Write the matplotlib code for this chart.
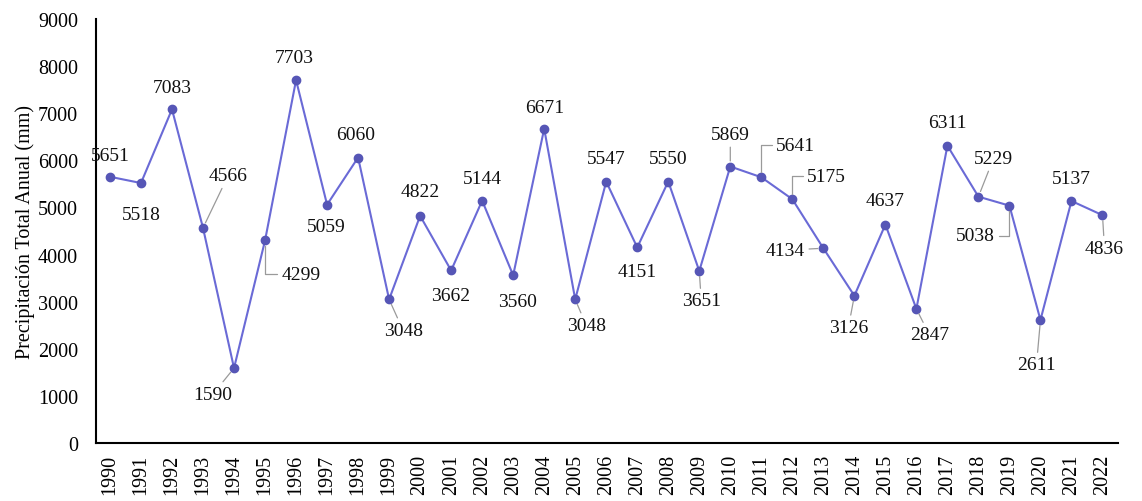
import matplotlib.pyplot as plt
import numpy as np

plt.rcParams['font.family'] = ['Liberation Serif', 'DejaVu Serif']

# annual precipitation totals (mm)
years = list(range(1990, 2023))
precip = [5651, 5518, 7083, 4566, 1590, 4299, 7703, 5059, 6060, 3048,
          4822, 3662, 5144, 3560, 6671, 3048, 5547, 4151, 5550, 3651,
          5869, 5641, 5175, 4134, 3126, 4637, 2847, 6311, 5229, 5038,
          2611, 5137, 4836]
y_ticks = [0, 1000, 2000, 3000, 4000, 5000, 6000, 7000, 8000, 9000]

# label placement (pixel offsets from the point) and leader line style
label_offsets = [(0, 21), (0, -31), (0, 22), (25, 52), (-21, -26), (36, -34),
                 (-2, 23), (-1, -22), (-2, 23), (14, -31), (0, 24), (-1, -25),
                 (0, 22), (4, -26), (0, 21), (11, -26), (0, 23), (0, -24),
                 (0, 23), (2, -30), (0, 32), (34, 32), (34, 23), (-38, -2),
                 (-6, -32), (0, 24), (13, -26), (0, 23), (15, 38), (-34, -30),
                 (-4, -45), (0, 22), (2, -33)]
ELBOW = 'angle,angleA=0,angleB=90,rad=0'
STRAIGHT = 'arc3'
leaders = [None, None, None, STRAIGHT, STRAIGHT, ELBOW, None, None, None, STRAIGHT,
           None, None, None, None, None, STRAIGHT, None, None, None, STRAIGHT,
           STRAIGHT, ELBOW, ELBOW, STRAIGHT, STRAIGHT, None, STRAIGHT, None, STRAIGHT, ELBOW,
           STRAIGHT, None, STRAIGHT]

fig = plt.figure(figsize=(11.42, 5.02), dpi=100)
ax = fig.add_axes([96 / 1142, 1 - 444 / 502, (1118 - 96) / 1142, (444 - 20) / 502])

ax.plot(years, precip, color='#6a6ad6', lw=1.5, zorder=2)
ax.plot(years, precip, 'o', color='#5656b6', markersize=6, zorder=3)

for yr, val, off, lead in zip(years, precip, label_offsets, leaders):
    arrow = None
    if lead:
        arrow = dict(arrowstyle='-', color='#9a9a9a', lw=0.9, shrinkA=1, shrinkB=4,
                     connectionstyle=lead)
    ax.annotate(str(val), xy=(yr, val), xytext=off, textcoords='offset pixels',
                ha='center', va='center', fontsize=14, color='#111111',
                arrowprops=arrow, zorder=4)

ax.set_xlim(1989.55, 2022.5)
ax.set_ylim(0, 9000)
ax.set_yticks(y_ticks)
ax.set_yticklabels([str(t) for t in y_ticks], fontsize=14.5)
ax.set_xticks(years)
ax.set_xticklabels([str(y) for y in years], rotation=90, fontsize=14.5)
ax.tick_params(axis='both', length=0, pad=8)
ax.tick_params(axis='y', pad=13)

ax.set_ylabel('Precipitación Total Anual (mm)', fontsize=14.5, labelpad=2)

for side in ['top', 'right']:
    ax.spines[side].set_visible(False)
ax.spines['left'].set_linewidth(1.5)
ax.spines['bottom'].set_linewidth(1.5)

fig.savefig('out.png', dpi=100)
